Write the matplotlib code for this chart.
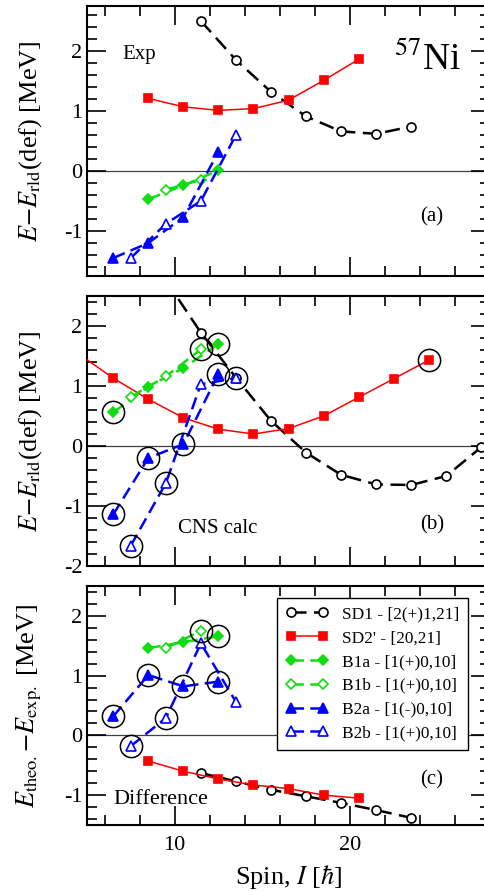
import matplotlib
matplotlib.use("Agg")
import matplotlib.pyplot as plt
from matplotlib.ticker import MultipleLocator

plt.rcParams["font.family"] = "serif"
plt.rcParams["font.serif"] = ["Liberation Serif", "DejaVu Serif"]
plt.rcParams["mathtext.fontset"] = "stix"
plt.rcParams["axes.unicode_minus"] = False

# ---- (a) experiment ----
spin_sd1_exp = [11.5, 13.5, 15.5, 17.5, 19.5, 21.5, 23.5]
e_sd1_exp = [2.50, 1.85, 1.32, 0.91, 0.66, 0.62, 0.74]
spin_sd2_exp = [8.5, 10.5, 12.5, 14.5, 16.5, 18.5, 20.5]
e_sd2_exp = [1.21, 1.07, 1.01, 1.04, 1.18, 1.51, 1.86]
spin_b1a_exp = [8.5, 10.5, 12.5]
e_b1a_exp = [-0.47, -0.24, 0.01]
spin_b1b_exp = [9.5, 11.5]
e_b1b_exp = [-0.31, -0.15]
spin_b2a_exp = [6.5, 8.5, 10.5, 12.5]
e_b2a_exp = [-1.45, -1.20, -0.77, 0.32]
spin_b2b_exp = [7.5, 9.5, 11.5, 13.5]
e_b2b_exp = [-1.45, -0.88, -0.50, 0.60]

# ---- (b) CNS calculation ----
spin_sd1_cal = [9.5, 11.5, 13.5, 15.5, 17.5, 19.5, 21.5, 23.5, 25.5, 27.5]
e_sd1_cal = [2.76, 1.89, 1.14, 0.42, -0.11, -0.48, -0.64, -0.65, -0.50, -0.02]
spin_sd2_cal = [4.5, 6.5, 8.5, 10.5, 12.5, 14.5, 16.5, 18.5, 20.5, 22.5, 24.5]
e_sd2_cal = [1.54, 1.13, 0.78, 0.47, 0.28, 0.20, 0.29, 0.50, 0.81, 1.12, 1.43]
spin_b1a_cal = [6.5, 8.5, 10.5, 12.5]
e_b1a_cal = [0.56, 0.99, 1.30, 1.70]
spin_b1b_cal = [7.5, 9.5, 11.5]
e_b1b_cal = [0.82, 1.16, 1.61]
spin_b2a_cal = [6.5, 8.5, 10.5, 12.5]
e_b2a_cal = [-1.14, -0.20, 0.03, 1.20]
spin_b2b_cal = [7.5, 9.5, 11.5, 13.5]
e_b2b_cal = [-1.66, -0.62, 1.03, 1.13]

# ---- (c) difference ----
spin_sd1_dif = [11.5, 13.5, 15.5, 17.5, 19.5, 21.5, 23.5]
e_sd1_dif = [-0.63, -0.77, -0.91, -1.02, -1.13, -1.25, -1.38]
spin_sd2_dif = [8.5, 10.5, 12.5, 14.5, 16.5, 18.5, 20.5]
e_sd2_dif = [-0.43, -0.60, -0.73, -0.83, -0.89, -1.00, -1.05]
spin_b1a_dif = [8.5, 10.5, 12.5]
e_b1a_dif = [1.46, 1.56, 1.66]
spin_b1b_dif = [9.5, 11.5]
e_b1b_dif = [1.46, 1.75]
spin_b2a_dif = [6.5, 8.5, 10.5, 12.5]
e_b2a_dif = [0.32, 1.01, 0.82, 0.90]
spin_b2b_dif = [7.5, 9.5, 11.5, 13.5]
e_b2b_dif = [-0.18, 0.29, 1.54, 0.56]

# circled states (band, spin)
circled_cal = [("B1a", 6.5), ("B1b", 11.5), ("B1a", 12.5), ("B2a", 12.5),
               ("B2b", 13.5), ("B2a", 6.5), ("B2a", 8.5), ("B2a", 10.5),
               ("B2b", 9.5), ("B2b", 7.5), ("SD2", 24.5)]
circled_dif = [("B2a", 6.5), ("B2b", 7.5), ("B2a", 8.5), ("B2b", 9.5),
               ("B2a", 10.5), ("B1b", 11.5), ("B1a", 12.5), ("B2a", 12.5)]

labels = {
    "SD1": "SD1 - [2(+)1,21]",
    "SD2": "SD2' - [20,21]",
    "B1a": "B1a - [1(+)0,10]",
    "B1b": "B1b - [1(+)0,10]",
    "B2a": "B2a - [1(-)0,10]",
    "B2b": "B2b - [1(+)0,10]",
}

green = "#11dd11"
blue = "#0000ff"
red = "#ff0000"
styles = {
    "SD1": dict(color="black", marker="o", mfc="white", ms=6.5, lw=1.8, dashes=(6, 3)),
    "SD2": dict(color=red, marker="s", mfc=red, ms=6, lw=1.1, ls="-"),
    "B1a": dict(color=green, marker="D", mfc=green, ms=5, lw=1.8, dashes=(5, 2.5)),
    "B1b": dict(color=green, marker="D", mfc="white", ms=5, lw=1.8, dashes=(5, 2.5)),
    "B2a": dict(color=blue, marker="^", mfc=blue, ms=7, lw=1.8, dashes=(5, 2.5)),
    "B2b": dict(color=blue, marker="^", mfc="white", ms=7, lw=1.8, dashes=(5, 2.5)),
}

panels = [
    {"SD1": (spin_sd1_exp, e_sd1_exp), "SD2": (spin_sd2_exp, e_sd2_exp),
     "B1a": (spin_b1a_exp, e_b1a_exp), "B1b": (spin_b1b_exp, e_b1b_exp),
     "B2a": (spin_b2a_exp, e_b2a_exp), "B2b": (spin_b2b_exp, e_b2b_exp)},
    {"SD1": (spin_sd1_cal, e_sd1_cal), "SD2": (spin_sd2_cal, e_sd2_cal),
     "B1a": (spin_b1a_cal, e_b1a_cal), "B1b": (spin_b1b_cal, e_b1b_cal),
     "B2a": (spin_b2a_cal, e_b2a_cal), "B2b": (spin_b2b_cal, e_b2b_cal)},
    {"SD1": (spin_sd1_dif, e_sd1_dif), "SD2": (spin_sd2_dif, e_sd2_dif),
     "B1a": (spin_b1a_dif, e_b1a_dif), "B1b": (spin_b1b_dif, e_b1b_dif),
     "B2a": (spin_b2a_dif, e_b2a_dif), "B2b": (spin_b2b_dif, e_b2b_dif)},
]
circles = [[], circled_cal, circled_dif]
ylims = [(-1.75, 2.75), (-2.0, 2.5), (-1.5, 2.5)]

fig = plt.figure(figsize=(4.84, 8.92), dpi=100)
left, width = 87 / 484, 403 / 484
rects = [
    [left, 1 - 276 / 892, width, 270 / 892],
    [left, 1 - 566 / 892, width, 270 / 892],
    [left, 1 - 825 / 892, width, 239 / 892],
]

axes = []
for i, rect in enumerate(rects):
    ax = fig.add_axes(rect)
    ax.set_xlim(5, 28)
    ax.set_ylim(*ylims[i])
    ax.axhline(0, color="0.25", lw=0.9, zorder=1)
    data = panels[i]
    for key in ["SD1", "SD2", "B1a", "B1b", "B2a", "B2b"]:
        xs, ys = data[key]
        ax.plot(xs, ys, label=labels[key], mew=1.2, zorder=3, **styles[key])
    for key, s in circles[i]:
        xs, ys = data[key]
        ax.plot([s], [ys[xs.index(s)]], marker="o", ms=16, mfc="none",
                mec="black", mew=1.1, ls="none", zorder=4)
    ax.xaxis.set_major_locator(MultipleLocator(10))
    ax.xaxis.set_minor_locator(MultipleLocator(2))
    ax.yaxis.set_major_locator(MultipleLocator(1))
    ax.yaxis.set_minor_locator(MultipleLocator(0.2))
    ax.tick_params(which="both", direction="in", top=True, right=True,
                   width=1.2, labelsize=16)
    ax.tick_params(which="major", length=13.5)
    ax.tick_params(which="minor", length=7)
    ax.tick_params(axis="x", pad=8)
    for sp in ax.spines.values():
        sp.set_linewidth(1.5)
    if i < 2:
        ax.tick_params(labelbottom=False)
    axes.append(ax)

ax_a, ax_b, ax_c = axes
ylab = r"$E{-}E_{\rm rld}$(def) [MeV]"
ax_a.set_ylabel(ylab, fontsize=19, labelpad=14)
ax_b.set_ylabel(ylab, fontsize=19, labelpad=14)
ax_c.set_ylabel(r"$E_{\rm theo.}{-}E_{\rm exp.}$ [MeV]", fontsize=19, labelpad=14)
ax_c.set_xlabel(r"Spin, $I$ [$\hbar$]", fontsize=19, labelpad=6)

ax_a.text(7.0, 1.95, "Exp", fontsize=15, va="center")
ax_a.text(22.5, 1.68, r"$^{57}$Ni", fontsize=27, va="baseline")
ax_a.text(24.0, -0.77, "(a)", fontsize=15, va="center")
ax_b.text(10.2, -1.38, "CNS calc", fontsize=15, va="center")
ax_b.text(24.0, -1.31, "(b)", fontsize=15, va="center")
ax_c.text(6.5, -1.07, "Difference", fontsize=16, va="center")
ax_c.text(24.0, -0.75, "(c)", fontsize=15, va="center")

leg = ax_c.legend(loc="upper left", bbox_to_anchor=(0.471, 0.951),
                  borderaxespad=0, numpoints=2, handlelength=2.5,
                  fontsize=12.4, labelspacing=0.45, fancybox=False,
                  edgecolor="black", framealpha=1, borderpad=0.5,
                  handletextpad=0.8)
leg.get_frame().set_linewidth(1.0)

fig.savefig("out.png", dpi=100)
